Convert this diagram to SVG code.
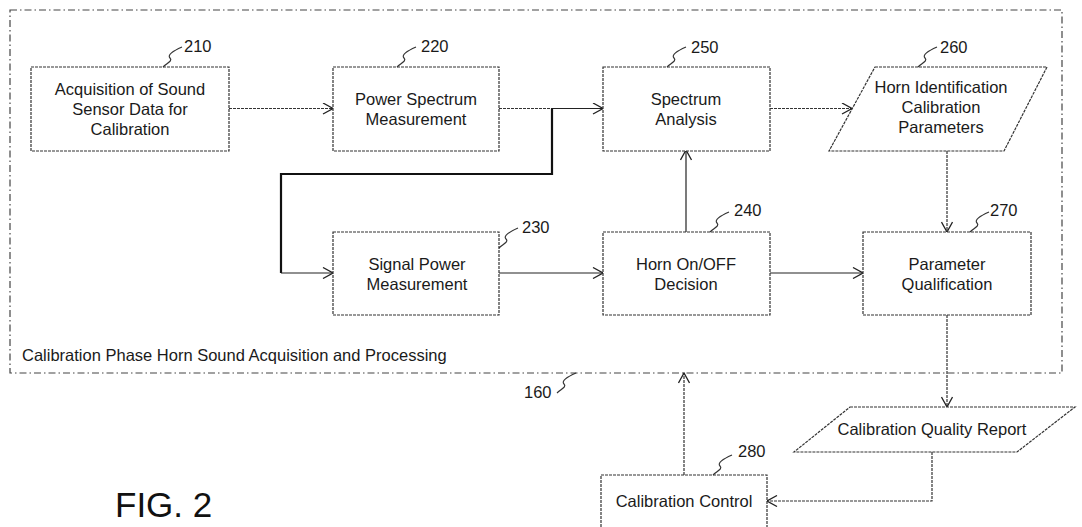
<svg xmlns="http://www.w3.org/2000/svg" width="1082" height="527" viewBox="0 0 1082 527">
<style>
.box{fill:#fff;stroke:#333;stroke-width:1.2;stroke-dasharray:3 1}
.t{font-family:"Liberation Sans",Arial,sans-serif;font-size:16.5px;fill:#1a1a1a;text-anchor:middle}
.lb{font-family:"Liberation Sans",Arial,sans-serif;font-size:16.5px;fill:#1a1a1a}
.c{fill:none;stroke:#333;stroke-width:1.2;stroke-dasharray:3 1}
.cs{fill:none;stroke:#222;stroke-width:1.2}
.thick{fill:none;stroke:#111;stroke-width:2.2}
.sq{fill:none;stroke:#333;stroke-width:1.2}
.frame{fill:none;stroke:#444;stroke-width:1.2;stroke-dasharray:7 3 1.5 3}
</style>
<defs>
<marker id="ah" markerWidth="12" markerHeight="12" refX="11" refY="6" orient="auto" markerUnits="userSpaceOnUse">
<path d="M1,0.5 L11,6 L1,11.5" fill="none" stroke="#222" stroke-width="1.3"/>
</marker>
<path id="sqg" d="M0,0 C4,-4 10,-6 7,-9 C4,-12 10,-16 19,-20"/>
</defs>
<rect width="1082" height="527" fill="#fff"/>

<g id="frame160">
<rect class="frame" x="10" y="10" width="1052" height="363"/>
<text class="lb" x="22" y="361" font-size="16.8">Calibration Phase Horn Sound Acquisition and Processing</text>
<use href="#sqg" class="sq" x="557" y="393"/>
<text class="lb" x="524" y="398">160</text>
</g>

<g id="connectors">
<line class="c" x1="229" y1="108.5" x2="333" y2="108.5" marker-end="url(#ah)"/>
<line class="c" x1="499" y1="108.5" x2="552" y2="108.5"/>
<line class="cs" x1="552" y1="108.5" x2="603" y2="108.5" marker-end="url(#ah)"/>
<polyline class="thick" points="552,108.5 552,174 281,174 281,273"/>
<line class="cs" x1="281" y1="273" x2="333" y2="273" marker-end="url(#ah)"/>
<line class="c" x1="770" y1="108.5" x2="852" y2="108.5" marker-end="url(#ah)"/>
<line class="cs" x1="686" y1="232" x2="686" y2="150" marker-end="url(#ah)"/>
<line class="cs" x1="499" y1="273" x2="603" y2="273" marker-end="url(#ah)"/>
<line class="cs" x1="770" y1="273" x2="863" y2="273" marker-end="url(#ah)"/>
<line class="c" x1="947" y1="151" x2="947" y2="232" marker-end="url(#ah)"/>
<line class="c" x1="947" y1="315" x2="947" y2="407" marker-end="url(#ah)"/>
<polyline class="c" points="932,452 932,501 767,501" marker-end="url(#ah)"/>
<line class="c" x1="684" y1="475" x2="684" y2="373" marker-end="url(#ah)"/>
</g>

<g id="n210">
<rect class="box" x="31" y="67" width="198" height="84"/>
<text class="t" x="130" y="95">Acquisition of Sound</text>
<text class="t" x="130" y="115">Sensor Data for</text>
<text class="t" x="130" y="135">Calibration</text>
<use href="#sqg" class="sq" x="163" y="67"/>
<text class="lb" x="184" y="52">210</text>
</g>

<g id="n220">
<rect class="box" x="333" y="67" width="166" height="84"/>
<text class="t" x="416" y="105">Power Spectrum</text>
<text class="t" x="416" y="125">Measurement</text>
<use href="#sqg" class="sq" x="397" y="67"/>
<text class="lb" x="421" y="52">220</text>
</g>

<g id="n250">
<rect class="box" x="603" y="67" width="167" height="84"/>
<text class="t" x="686" y="105">Spectrum</text>
<text class="t" x="686" y="125">Analysis</text>
<use href="#sqg" class="sq" x="667" y="67"/>
<text class="lb" x="691" y="53">250</text>
</g>

<g id="n260">
<polygon class="box" points="875,67 1047,67 1004,151 829,151"/>
<text class="t" x="941" y="93">Horn Identification</text>
<text class="t" x="941" y="113">Calibration</text>
<text class="t" x="941" y="133">Parameters</text>
<use href="#sqg" class="sq" x="918" y="67"/>
<text class="lb" x="940" y="53">260</text>
</g>

<g id="n230">
<rect class="box" x="333" y="232" width="166" height="83"/>
<text class="t" x="417" y="270">Signal Power</text>
<text class="t" x="417" y="290">Measurement</text>
<use href="#sqg" class="sq" x="499" y="248"/>
<text class="lb" x="522" y="233">230</text>
</g>

<g id="n240">
<rect class="box" x="603" y="232" width="167" height="83"/>
<text class="t" x="686" y="270">Horn On/OFF</text>
<text class="t" x="686" y="290">Decision</text>
<use href="#sqg" class="sq" x="710" y="232"/>
<text class="lb" x="734" y="216">240</text>
</g>

<g id="n270">
<rect class="box" x="863" y="232" width="168" height="83"/>
<text class="t" x="947" y="270">Parameter</text>
<text class="t" x="947" y="290">Qualification</text>
<use href="#sqg" class="sq" x="970" y="232"/>
<text class="lb" x="990" y="216">270</text>
</g>

<g id="nCQR">
<polygon class="box" points="850,407 1075,407 1017,452 794,452"/>
<text class="t" x="932" y="435">Calibration Quality Report</text>
</g>

<g id="n280">
<rect class="box" x="601" y="475" width="166" height="70"/>
<text class="t" x="684" y="507">Calibration Control</text>
<use href="#sqg" class="sq" x="713" y="475"/>
<text class="lb" x="738" y="457">280</text>
</g>

<text id="figlabel" x="115" y="517" font-family="'Liberation Sans',Arial,sans-serif" font-size="35" fill="#111">FIG. 2</text>
</svg>
